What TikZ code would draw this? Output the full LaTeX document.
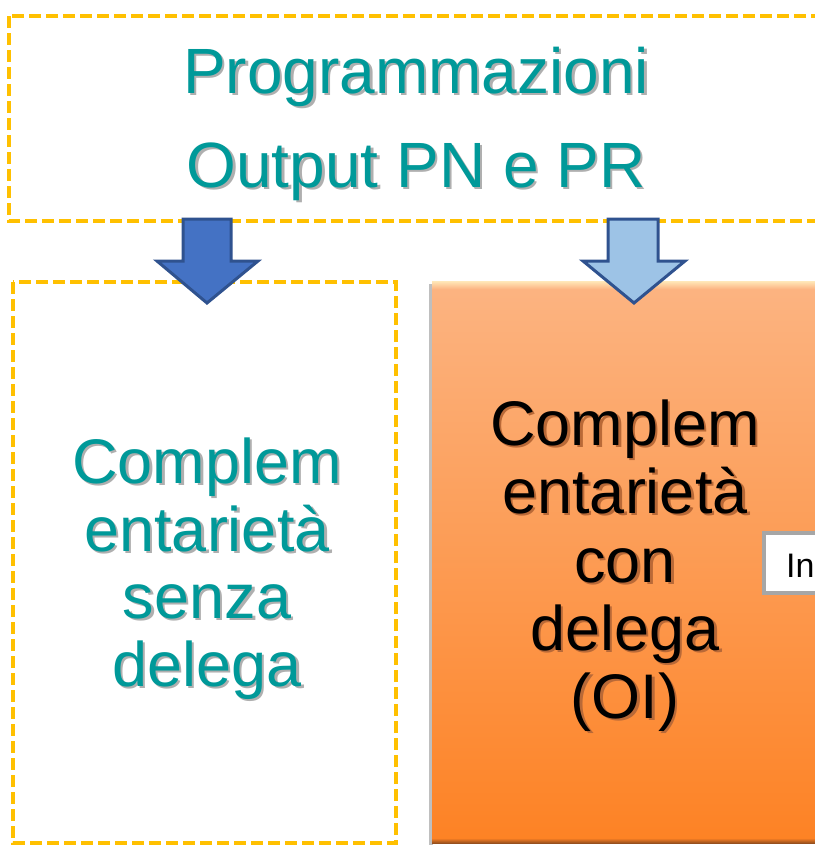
\documentclass[tikz,border=0pt]{standalone}
\usepackage{fontspec}
\setmainfont{Liberation Sans}
\definecolor{tealtxt}{RGB}{0,153,153}
\definecolor{gold}{RGB}{255,192,0}
\definecolor{arrowdark}{RGB}{68,114,196}
\definecolor{arrowlight}{RGB}{157,195,230}
\definecolor{arrowedge}{RGB}{47,82,143}
\definecolor{orangetop}{RGB}{252,180,130}
\definecolor{orangebot}{RGB}{253,130,36}
\definecolor{orangehi}{RGB}{255,232,185}
\definecolor{orangedark}{RGB}{150,80,30}
\definecolor{inborder}{RGB}{166,166,166}
\definecolor{shwhite}{RGB}{175,175,175}
\definecolor{shorange}{RGB}{185,105,55}
\tikzset{
  dashbox/.style={draw=gold, line width=4pt, dash pattern=on 12pt off 5pt},
  bigtext/.style={font=\fontsize{63}{68}\selectfont, inner sep=0pt, anchor=base},
  titletext/.style={font=\fontsize{64}{70}\selectfont, inner sep=0pt, anchor=base},
  blockarrow/.style={draw=arrowedge, line width=3pt, line join=miter},
}
% text with a drop shadow, inside one node
\newcommand\shtext[7]{%
  \node[#2] (#1) at (#3,#4) {\makebox[0pt][l]{\kern2.5pt\raisebox{-2.5pt}[0pt][0pt]{\textcolor{#6}{#7}}}\textcolor{#5}{#7}};}
\begin{document}
\begin{tikzpicture}[x=1pt,y=-1pt]
\useasboundingbox (0,0) rectangle (814,846);
% boxes
\draw[dashbox] (9,16) rectangle (840,221);
\draw[dashbox] (13,282) rectangle (396,843);
\fill[black!25] (429,284) rectangle (433,845);
\shade[top color=orangetop, bottom color=orangebot] (432,281) rectangle (840,843);
\shade[top color=orangehi, bottom color=orangetop] (432,281) rectangle (840,289);
\shade[top color=orangebot, bottom color=orangedark] (432,838) rectangle (840,843);
% title
\shtext{t1}{titletext}{416}{93}{tealtxt}{shwhite}{Programmazioni}
\shtext{t2}{titletext}{416}{187}{tealtxt}{shwhite}{Output PN e PR}
% left text
\shtext{l1}{bigtext}{207}{483}{tealtxt}{shwhite}{Complem}
\shtext{l2}{bigtext}{207}{551}{tealtxt}{shwhite}{entarietà}
\shtext{l3}{bigtext}{207}{618}{tealtxt}{shwhite}{senza}
\shtext{l4}{bigtext}{207}{686}{tealtxt}{shwhite}{delega}
% right text
\shtext{r1}{bigtext}{625}{445}{black}{shorange}{Complem}
\shtext{r2}{bigtext}{625}{513}{black}{shorange}{entarietà}
\shtext{r3}{bigtext}{625}{582}{black}{shorange}{con}
\shtext{r4}{bigtext}{625}{650}{black}{shorange}{delega}
\shtext{r5}{bigtext}{625}{718}{black}{shorange}{(OI)}
% arrows
\draw[blockarrow, fill=arrowdark] (183,219) -- (231,219) -- (231,261) -- (258,261) -- (207,303) -- (157,261) -- (183,261) -- cycle;
\draw[blockarrow, fill=arrowlight] (608,219) -- (658,219) -- (658,261) -- (685,261) -- (634,303) -- (583,261) -- (608,261) -- cycle;
% In box
\draw[draw=inborder, line width=4pt, fill=white] (764,533) rectangle (860,593);
\node[font=\fontsize{34}{40}\selectfont, inner sep=0pt, anchor=base west] (inl) at (786,577) {In};
\end{tikzpicture}
\end{document}
